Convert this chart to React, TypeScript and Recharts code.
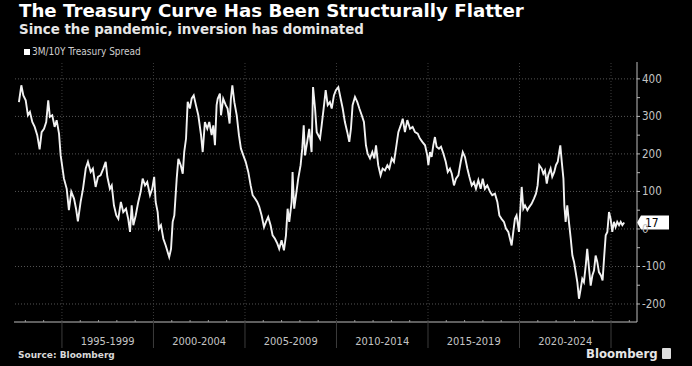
import { LineChart, Line, XAxis, YAxis, ReferenceLine } from "recharts";

// decimal years
const years = [
  1992.65, 1992.78, 1992.89, 1993.02, 1993.14, 1993.25, 1993.38, 1993.51, 1993.65, 1993.78, 1993.89,
  1994.02, 1994.14, 1994.25, 1994.34, 1994.47, 1994.6, 1994.71, 1994.84, 1994.93,
  1995.11, 1995.26, 1995.38, 1995.51, 1995.66, 1995.77, 1995.87,
  1996.02, 1996.15, 1996.3, 1996.42, 1996.57, 1996.69, 1996.84, 1996.97,
  1997.11, 1997.26, 1997.39, 1997.48, 1997.62, 1997.72, 1997.84, 1997.97,
  1998.08, 1998.22, 1998.35, 1998.5, 1998.62, 1998.72, 1998.81, 1998.9,
  1999.03, 1999.17, 1999.3, 1999.41, 1999.54, 1999.66, 1999.81, 1999.93,
  2000.04, 2000.12, 2000.23, 2000.3, 2000.41, 2000.54, 2000.67, 2000.78, 2000.86, 2000.96,
  2001.05, 2001.14, 2001.27, 2001.36, 2001.49, 2001.6, 2001.68, 2001.78, 2001.87, 2001.99,
  2002.09, 2002.2, 2002.32, 2002.45, 2002.6, 2002.69, 2002.81, 2002.94,
  2003.05, 2003.18, 2003.27, 2003.36, 2003.45, 2003.51, 2003.63, 2003.69, 2003.81, 2003.95,
  2004.05, 2004.16, 2004.23, 2004.31, 2004.42, 2004.55, 2004.67, 2004.78, 2004.91,
  2005.04, 2005.18, 2005.31, 2005.42, 2005.55, 2005.67, 2005.78, 2005.91,
  2006.04, 2006.15, 2006.27, 2006.4, 2006.51, 2006.64, 2006.77, 2006.87,
  2007.0, 2007.13, 2007.24, 2007.33, 2007.42, 2007.55, 2007.6, 2007.69, 2007.79, 2007.91,
  2008.04, 2008.13, 2008.21, 2008.28, 2008.4, 2008.51, 2008.64, 2008.72, 2008.83, 2008.92,
  2009.1, 2009.19, 2009.32, 2009.41, 2009.52, 2009.64, 2009.74, 2009.86, 2009.97,
  2010.1, 2010.23, 2010.34, 2010.46, 2010.59, 2010.7, 2010.79, 2010.88,
  2011.01, 2011.14, 2011.25, 2011.38, 2011.5, 2011.61, 2011.7, 2011.83, 2011.96,
  2012.07, 2012.16, 2012.28, 2012.41, 2012.52, 2012.65, 2012.78, 2012.89,
  2013.02, 2013.14, 2013.25, 2013.38, 2013.51, 2013.62, 2013.74, 2013.87,
  2014.02, 2014.16, 2014.29, 2014.44, 2014.56, 2014.69, 2014.84, 2014.96,
  2015.02, 2015.11, 2015.2, 2015.29, 2015.38, 2015.47, 2015.6, 2015.71, 2015.84, 2015.97,
  2016.08, 2016.2, 2016.3, 2016.42, 2016.53, 2016.66, 2016.79, 2016.9,
  2017.02, 2017.15, 2017.26, 2017.39, 2017.51, 2017.62, 2017.75, 2017.88, 2017.99,
  2018.11, 2018.24, 2018.39, 2018.51, 2018.66, 2018.79, 2018.9,
  2019.02, 2019.15, 2019.26, 2019.39, 2019.48, 2019.57, 2019.66, 2019.75, 2019.84, 2019.97,
  2020.12, 2020.21, 2020.3, 2020.43, 2020.54, 2020.66, 2020.79, 2020.9, 2020.99,
  2021.08, 2021.21, 2021.3, 2021.39, 2021.49, 2021.57, 2021.7, 2021.79, 2021.9, 2021.99,
  2022.09, 2022.17, 2022.23, 2022.31, 2022.4, 2022.45, 2022.52, 2022.61, 2022.7, 2022.8, 2022.89, 2022.98,
  2023.07, 2023.16, 2023.25, 2023.34, 2023.43, 2023.52, 2023.62, 2023.7, 2023.8, 2023.89, 2023.98,
  2024.07, 2024.16, 2024.25, 2024.34, 2024.45, 2024.54, 2024.63, 2024.71, 2024.8, 2024.89, 2024.98,
  2025.07, 2025.16, 2025.25, 2025.34, 2025.44, 2025.53, 2025.62, 2025.72,
];

// 3M/10Y spread, basis points
const spread = [
  338, 383, 356, 343, 303, 312, 285, 272, 250, 212, 258,
  267, 285, 343, 299, 303, 272, 290, 254, 196,
  134, 107, 50, 99, 81, 54, 20,
  72, 107, 161, 179, 152, 161, 112, 139,
  143, 161, 179, 139, 107, 116, 63, 36,
  27, 72, 45, 54, 27, -8, 63, 10,
  36, 72, 99, 134, 116, 125, 90, 107,
  139, 72, 45, 1, 10, -26, -44, -62, -75, -53,
  19, 36, 134, 187, 170, 147, 205, 241, 339, 321,
  348, 356, 330, 303, 250, 205, 285, 267,
  285, 250, 276, 223, 330, 347, 361, 303, 347, 330,
  321, 281, 347, 383, 338, 303, 250, 214, 196,
  179, 152, 116, 90, 81, 72, 59, 36,
  5, 19, 32, 10, -17, -26, -39, -53,
  -30, -57, -17, 54, 19, 72, 152, 54, 90, 134,
  170, 214, 276, 196, 232, 267, 205, 378, 321, 258,
  241, 276, 330, 370, 330, 338, 321, 356, 370,
  378, 347, 321, 285, 258, 232, 267, 330,
  352, 338, 321, 303, 285, 223, 201, 188, 205,
  188, 223, 170, 143, 161, 156, 170, 161,
  188, 179, 214, 258, 276, 294, 258, 290,
  267, 272, 258, 254, 241, 232, 223, 196,
  170, 205, 192, 223, 245, 219, 214, 219, 201, 179,
  152, 161, 147, 116, 134, 143, 179, 205,
  192, 161, 139, 116, 125, 107, 130, 107, 134,
  107, 116, 99, 90, 94, 72, 36,
  27, 19, 1, -8, -26, -44, -8, 27, 36, -8,
  112, 54, 63, 50, 59, 67, 81, 94, 116,
  170, 161, 147, 156, 121, 143, 161, 139, 152, 170,
  179, 205, 223, 179, 134, 63, 19, 63, 19, -26, -71, -88,
  -115, -142, -186, -160, -133, -142, -97, -53, -106, -151, -124,
  -111, -71, -88, -115, -124, -137, -71, -17, -8, 45, 27,
  -8, 19, 5, 19, 10, 19, 10, 17,
];

const periodLabels = ["1995-1999", "2000-2004", "2005-2009", "2010-2014", "2015-2019", "2020-2024"];
const periodStarts = [1995, 2000, 2005, 2010, 2015, 2020, 2025];
const yearTicks = [
  1993, 1994, 1995, 1996, 1997, 1998, 1999, 2000, 2001, 2002, 2003, 2004, 2005, 2006, 2007, 2008, 2009,
  2010, 2011, 2012, 2013, 2014, 2015, 2016, 2017, 2018, 2019, 2020, 2021, 2022, 2023, 2024, 2025, 2026,
];
const yTicks = [-200, -150, -100, -50, 0, 50, 100, 150, 200, 250, 300, 350, 400];
const gridValues = [-200, -100, 0, 100, 200, 300, 400];
const lastValue = 17;

const data = years.map((year, i) => ({ year, spread: spread[i] }));
const midTicks = periodStarts.slice(0, periodLabels.length).map((s) => s + 2.5);
const xTicks = [...yearTicks, ...midTicks].sort((a, b) => a - b);

const condensed = "'DejaVu Sans Condensed', 'Liberation Sans Narrow', sans-serif";
const bold = "'DejaVu Sans', Verdana, sans-serif";

const XTick = (props: any) => {
  const { x, y, payload } = props;
  const v = payload.value;
  const idx = midTicks.indexOf(v);
  if (idx >= 0) {
    return (
      <text x={x} y={y + 23} textAnchor="middle" fill="#c4c4c4" fontSize={11} fontFamily={condensed}>
        {periodLabels[idx]}
      </text>
    );
  }
  if (periodStarts.includes(v)) {
    return <line x1={x} x2={x} y1={y - 2} y2={y + 26} stroke="#3c3c3c" />;
  }
  return <line x1={x} x2={x} y1={y - 2} y2={y} stroke="#9a9a9a" />;
};

const YTick = (props: any) => {
  const { x, y, payload } = props;
  const v = payload.value;
  return (
    <g>
      <line x1={x} x2={x + 3} y1={y} y2={y} stroke="#b8b8b8" />
      {v % 100 === 0 && (
        <text x={x + 5} y={y + 4} fill="#c4c4c4" fontSize={11.5} fontFamily={condensed}>
          {v}
        </text>
      )}
    </g>
  );
};

const LastValueTag = (props: any) => {
  const { viewBox } = props;
  const x = viewBox.x + viewBox.width;
  const y = viewBox.y;
  return (
    <g>
      <path
        d={`M${x} ${y} L${x + 4} ${y - 7} L${x + 32} ${y - 7} L${x + 32} ${y + 7} L${x + 4} ${y + 7} Z`}
        fill="#ffffff"
      />
      <text x={x + 8} y={y + 4.5} fill="#000" fontSize={12} fontFamily={condensed}>
        {lastValue}
      </text>
    </g>
  );
};

const App = () => {
  return (
    <div style={{ position: "relative", width: 692, height: 366, background: "#000", overflow: "hidden" }}>
      <style>{"body{margin:0;background:#000}"}</style>
      <div
        style={{
          position: "absolute",
          left: 19,
          top: 0,
          color: "#fff",
          fontFamily: bold,
          fontWeight: 700,
          fontSize: 18.2,
          whiteSpace: "nowrap",
        }}
      >
        The Treasury Curve Has Been Structurally Flatter
      </div>
      <div
        style={{
          position: "absolute",
          left: 19,
          top: 22,
          color: "#e6e6e6",
          fontFamily: bold,
          fontWeight: 700,
          fontSize: 13.4,
          whiteSpace: "nowrap",
        }}
      >
        Since the pandemic, inversion has dominated
      </div>
      <div
        style={{
          position: "absolute",
          left: 24,
          top: 46,
          color: "#cfcfcf",
          fontFamily: condensed,
          fontSize: 10,
          whiteSpace: "nowrap",
          display: "flex",
          alignItems: "center",
        }}
      >
        <span style={{ display: "inline-block", width: 6, height: 6, background: "#fff", marginRight: 2 }} />
        3M/10Y Treasury Spread
      </div>
      <div
        style={{
          position: "absolute",
          left: 18,
          top: 350,
          color: "#d8d8d8",
          fontFamily: bold,
          fontWeight: 700,
          fontSize: 9,
        }}
      >
        Source: Bloomberg
      </div>
      <div
        style={{
          position: "absolute",
          left: 586,
          top: 346,
          color: "#e6e6e6",
          fontFamily: condensed,
          fontWeight: 700,
          fontSize: 13,
          display: "flex",
          alignItems: "center",
        }}
      >
        Bloomberg
        <span
          style={{ display: "inline-block", width: 9, height: 11, background: "#ddd", marginLeft: 4, borderRadius: 1 }}
        />
      </div>
      <div style={{ position: "absolute", left: 0, top: 0 }}>
        <LineChart width={692} height={366} data={data} margin={{ top: 62, right: 15, bottom: 14, left: 14 }}>
          {gridValues.map((v) => (
            <ReferenceLine key={"h" + v} y={v} stroke="#555" strokeDasharray="1 2" />
          ))}
          {periodStarts.map((v) => (
            <ReferenceLine key={"v" + v} x={v} stroke="#3c3c3c" strokeDasharray="1 2" />
          ))}
          <XAxis
            dataKey="year"
            type="number"
            domain={[1992.38, 2026.42]}
            ticks={xTicks}
            interval={0}
            tick={<XTick />}
            tickLine={false}
            tickSize={0}
            tickMargin={0}
            height={30}
            axisLine={{ stroke: "#bdbdbd" }}
            allowDataOverflow
          />
          <YAxis
            orientation="right"
            type="number"
            domain={[-248, 445]}
            ticks={yTicks}
            interval={0}
            tick={<YTick />}
            tickLine={false}
            tickSize={0}
            tickMargin={0}
            width={40}
            axisLine={{ stroke: "#bdbdbd" }}
            allowDataOverflow
          />
          <Line
            type="linear"
            dataKey="spread"
            stroke="#f2f2f2"
            strokeWidth={1.9}
            dot={false}
            isAnimationActive={false}
          />
          <ReferenceLine y={lastValue} stroke="none" label={<LastValueTag />} />
        </LineChart>
      </div>
    </div>
  );
};

export default App;
